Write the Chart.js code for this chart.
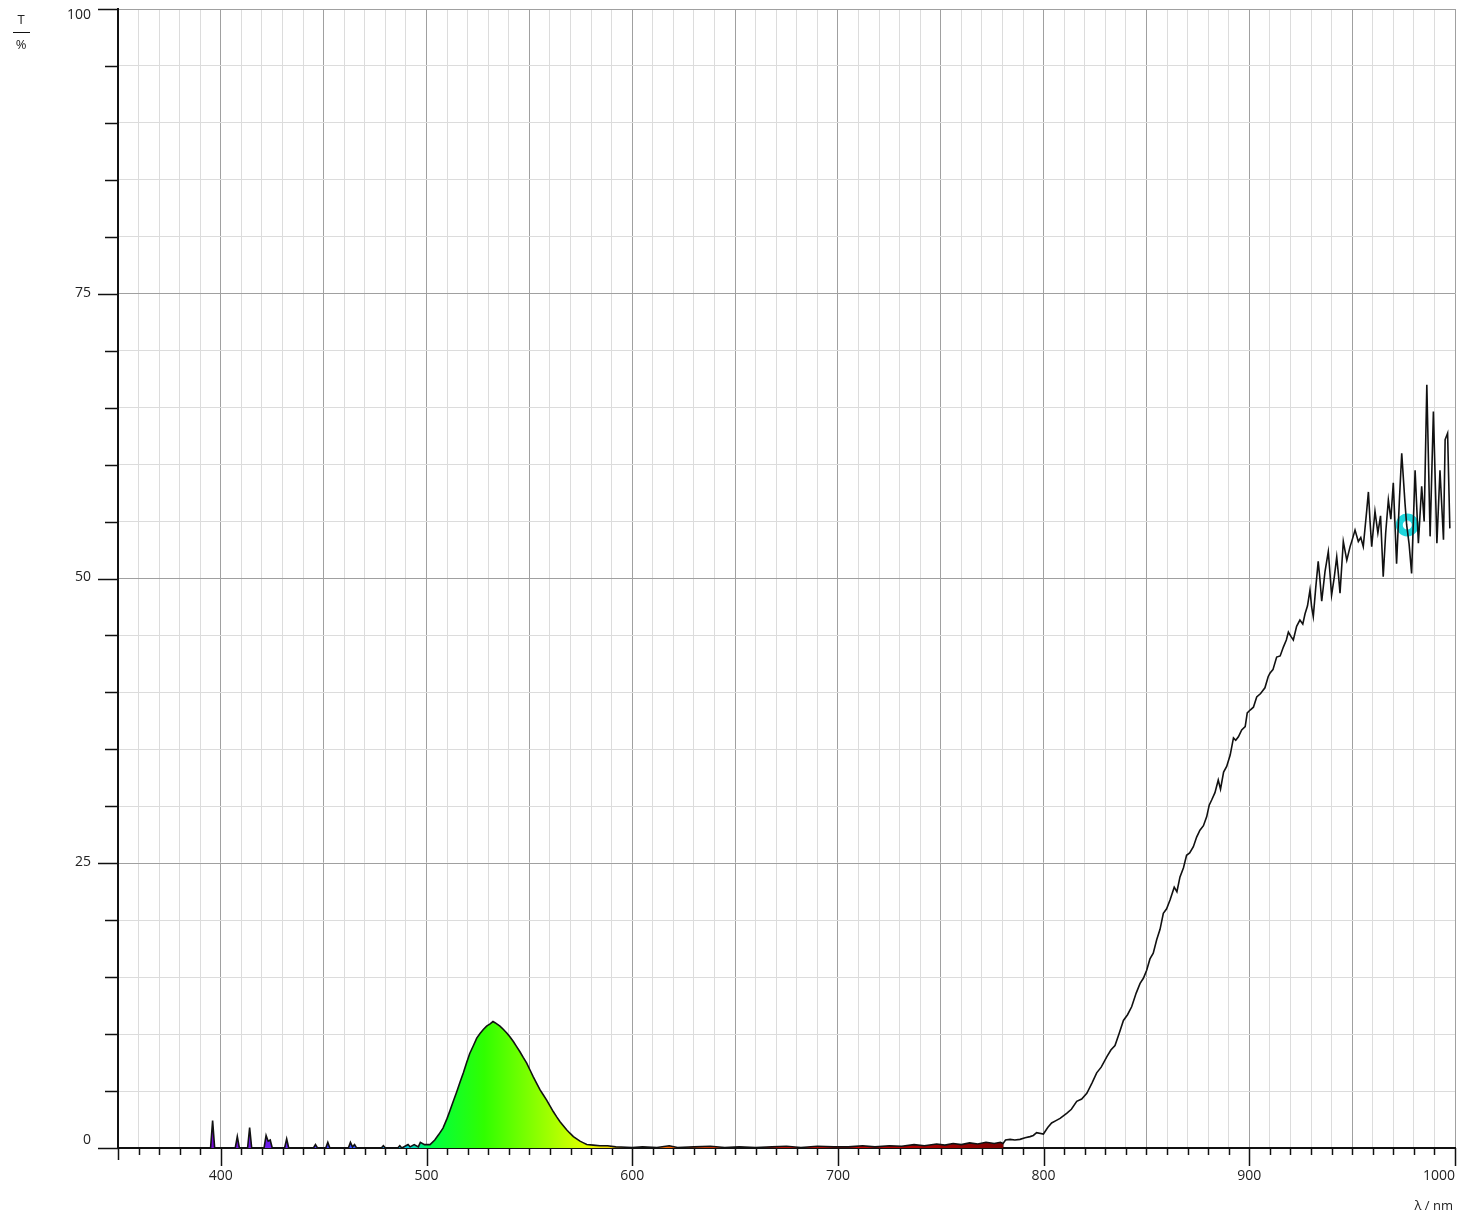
<!DOCTYPE html>
<html>
<head>
<meta charset="utf-8">
<script src="https://cdn.jsdelivr.net/npm/chart.js@4.4.0/dist/chart.umd.min.js"></script>
<style>
  html, body { margin: 0; padding: 0; background: #fff; }
  #wrap { width: 1465px; height: 1217px; position: relative; }
</style>
</head>
<body>
<div id="wrap"><canvas id="specChart"></canvas></div>
<script>
// SPECTRUM DATA
const wavelengths = [
  350, 395, 396, 397, 407, 408, 409, 413, 414, 415, 421, 422, 423, 424, 425, 431, 432, 433,
  445, 446, 447, 451, 452, 453, 462, 463, 464, 465, 466, 478, 479, 480, 486, 487, 488,
  491, 492, 494, 496, 497, 499,
  501.7, 504, 506, 508, 510, 511.4, 513, 514.6, 516.3, 517.9, 519.5, 521, 522.8, 524.4, 526,
  527.6, 529.2, 530.9, 532.3, 533.3, 534.5, 535.7, 537.4, 539, 540.6, 542.2, 543.8, 545.4,
  547, 548.7, 550.3, 551.9, 553.6, 555.2, 556.8, 558.4, 560, 561.6, 563.2, 564.9, 566.5,
  568.1, 569.7, 571.4, 573, 574.6, 576.3, 577.9, 581, 584.3, 588, 592, 600,
  605, 612, 618, 622, 630, 638, 645, 652, 660, 668, 675, 682, 690, 698, 705, 712, 718, 725,
  731, 737, 742, 748, 752, 756, 760, 764, 768, 772, 776, 779, 780.3, 781.5, 783.7, 786,
  788.5, 791, 793.4, 795, 796.6, 799.9, 802, 803.9, 806, 808, 811.2, 813.5, 816.1, 818.5,
  821, 823.5, 825.8, 828, 830.7, 832.7, 834.7, 836.8, 838.8, 840.8, 842.8, 845, 846.9,
  848.5, 850.1, 851.7, 853.3, 855, 856.6, 858.2, 859.8, 861.5, 863.5, 864.8, 866.3, 868,
  869.5, 871, 872.8, 874.4, 876, 877.7, 879.3, 880.5, 881.7, 883.3, 884.9, 886, 887.5, 889,
  890.7, 892.3, 893.4, 894.7, 896.3, 898, 899, 900.4, 902, 903.6, 905.5, 907.6, 909.2,
  910.1, 911.5, 913.3, 915, 916.6, 918, 919, 920.3, 921.4, 923, 924.6, 926, 927.1, 928.3,
  929.5, 930.3, 931.1, 932.3, 933.5, 934.3, 935.2, 936.8, 938.4, 939.2, 940, 941.3, 942.5,
  943.3, 944.1, 945.7, 947.4, 949, 950.2, 951.4, 953, 954.2, 955.4, 957.1, 957.9, 958.7,
  959.5, 961.1, 962.5, 963.8, 965.1, 966.3, 967.6, 968.8, 970, 971.6, 973, 974.1, 975.7,
  976.5, 977.7, 978.9, 980.6, 982.2, 983.8, 985, 986.3, 987.9, 989.5, 991.2, 992.7, 994.4,
  995.2, 996.4, 997.5
];
const transmission = [
  0, 0, 2.4, 0, 0, 1.0, 0, 0, 1.8, 0, 0, 1.1, 0.6, 0.7, 0, 0, 0.8, 0,
  0, 0.3, 0, 0, 0.5, 0, 0, 0.5, 0.1, 0.3, 0, 0, 0.2, 0, 0, 0.2, 0,
  0.3, 0.1, 0.3, 0.1, 0.5, 0.3,
  0.3, 0.7, 1.2, 1.75, 2.6, 3.3, 4.1, 4.9, 5.8, 6.6, 7.5, 8.3, 9.0, 9.65, 10.05,
  10.4, 10.7, 10.9, 11.1, 11.0, 10.85, 10.7, 10.4, 10.1, 9.75, 9.35, 8.9, 8.45,
  7.95, 7.45, 6.85, 6.25, 5.65, 5.1, 4.65, 4.2, 3.7, 3.2, 2.75, 2.3, 1.95,
  1.6, 1.3, 1.0, 0.8, 0.6, 0.45, 0.3, 0.25, 0.2, 0.2, 0.1, 0.05,
  0.1, 0.05, 0.2, 0.05, 0.1, 0.15, 0.05, 0.1, 0.05, 0.1, 0.15, 0.05, 0.15, 0.1, 0.1, 0.2, 0.1, 0.2,
  0.15, 0.3, 0.2, 0.35, 0.25, 0.4, 0.3, 0.45, 0.35, 0.5, 0.4, 0.5, 0.4, 0.7, 0.76, 0.7,
  0.76, 0.9, 1.0, 1.1, 1.35, 1.23, 1.8, 2.2, 2.4, 2.6, 3.05, 3.4, 4.1, 4.3,
  4.8, 5.7, 6.6, 7.1, 8.0, 8.6, 9.0, 10.1, 11.2, 11.7, 12.4, 13.6, 14.45,
  14.9, 15.6, 16.6, 17.1, 18.3, 19.2, 20.6, 21.0, 21.8, 22.9, 22.5, 23.8, 24.6,
  25.7, 25.9, 26.45, 27.3, 27.9, 28.3, 29.1, 30.1, 30.55, 31.2, 32.3, 31.5, 33.0, 33.5,
  34.5, 36.0, 35.8, 36.1, 36.7, 37.0, 38.2, 38.45, 38.7, 39.6, 39.9, 40.4, 41.4,
  41.7, 42.0, 43.1, 43.2, 44.0, 44.6, 45.3, 44.9, 44.6, 45.8, 46.35, 46.0, 46.9, 47.6,
  49.0, 47.5, 46.65, 49.2, 51.5, 50.0, 48.0, 50.6, 52.35, 50.5, 48.55, 50.1, 51.9,
  50.4, 48.7, 53.25, 51.6, 52.8, 53.5, 54.25, 53.25, 53.6, 52.8, 56.0, 57.6, 55.0,
  52.8, 55.9, 54.0, 55.5, 50.15, 54.0, 56.9, 55.2, 58.4, 51.3, 57.0, 61.0, 56.6,
  54.7, 53.0, 50.45, 59.5, 53.1, 58.1, 55.0, 67.0, 53.7, 64.65, 53.1, 59.5, 53.4,
  62.2, 62.75, 54.4
];
const cursorPoint = [{ x: 976.8, y: 54.7 }];

const xTickLabels = [400, 500, 600, 700, 800, 900, 1000];
const yTickLabels = [0, 25, 50, 75, 100];

// colours of the fill under the curve, by wavelength
const fillStops = [
  [380, '#7a00c8'], [430, '#6a20f0'], [465, '#3050ff'], [490, '#00c8e0'], [503, '#00ff40'],
  [528, '#30ff00'], [555, '#90ff00'], [578, '#e4ff00'], [598, '#ffb000'], [620, '#ff6000'],
  [660, '#ff1000'], [720, '#c00000'], [780, '#800000'], [781, 'rgba(0,0,0,0)'], [1000, 'rgba(0,0,0,0)']
];

const MINOR = '#dcdcdc';
const MAJOR = '#a0a0a0';
const TEXT = '#222';
const FONT = '14px "Open Sans", sans-serif';

function spectrumFill(context) {
    const chart = context.chart;
    const { ctx, chartArea, scales } = chart;
    if (!chartArea) return null;
    const x0 = scales.x.getPixelForValue(350);
    const x1 = scales.x.getPixelForValue(1000);
    const g = ctx.createLinearGradient(x0, 0, x1, 0);
    fillStops.forEach(s => {
        g.addColorStop((scales.x.getPixelForValue(s[0]) - x0) / (x1 - x0), s[1]);
    });
    return g;
}

// ticks, tick labels and axis titles
const axisDecor = {
    id: 'axisDecor',
    afterDraw(chart) {
        const { ctx, chartArea, scales } = chart;
        const xs = scales.x, ys = scales.y;
        ctx.save();
        ctx.strokeStyle = '#111';
        ctx.lineWidth = 1.5;
        // x ticks
        for (let v = 350; v <= 1000; v += 10) {
            const px = Math.round(xs.getPixelForValue(v)) + 0.5;
            let len = 7;
            if (v % 100 === 0) len = 18;
            else if (v === 350) len = 12;
            ctx.beginPath();
            ctx.moveTo(px, chartArea.bottom);
            ctx.lineTo(px, chartArea.bottom + len);
            ctx.stroke();
        }
        // y ticks
        for (let v = 0; v <= 100; v += 5) {
            const py = Math.round(ys.getPixelForValue(v)) + 0.5;
            const len = v % 25 === 0 ? 20 : 13;
            ctx.beginPath();
            ctx.moveTo(chartArea.left, py);
            ctx.lineTo(chartArea.left - len, py);
            ctx.stroke();
        }
        ctx.fillStyle = TEXT;
        ctx.font = FONT;
        ctx.textBaseline = 'middle';
        // x labels
        ctx.textAlign = 'center';
        xTickLabels.forEach(v => {
            let px = xs.getPixelForValue(v);
            if (v === 1000) { ctx.textAlign = 'right'; px = chartArea.right; }
            ctx.fillText(String(v), px, chartArea.bottom + 28);
            ctx.textAlign = 'center';
        });
        // y labels
        ctx.textAlign = 'right';
        yTickLabels.forEach(v => {
            let py = ys.getPixelForValue(v) - 1;
            if (v === 100) py += 7;
            if (v === 0) py -= 7;
            ctx.fillText(String(v), chartArea.left - 27, py);
        });
        // axis titles
        ctx.font = '13px "Open Sans", sans-serif';
        ctx.textAlign = 'center';
        ctx.fillText('T', 21, 20);
        ctx.fillText('%', 21, 45);
        ctx.lineWidth = 1;
        ctx.beginPath();
        ctx.moveTo(13, 32.5);
        ctx.lineTo(30, 32.5);
        ctx.stroke();
        ctx.textAlign = 'right';
        ctx.fillText('λ / nm', chartArea.right - 2, chartArea.bottom + 58);
        ctx.restore();
    }
};

const points = wavelengths.map((w, i) => ({ x: w, y: transmission[i] }));

new Chart(document.getElementById('specChart'), {
    type: 'line',
    data: {
        datasets: [{
            data: points,
            borderColor: '#111',
            borderWidth: 1.6,
            backgroundColor: spectrumFill,
            fill: 'origin',
            pointRadius: 0,
            tension: 0
        }, {
            data: cursorPoint,
            showLine: false,
            pointRadius: 8,
            pointBorderWidth: 7,
            pointBorderColor: '#1fd6dc',
            pointBackgroundColor: 'rgba(0,0,0,0)',
            fill: false
        }]
    },
    options: {
        responsive: true,
        maintainAspectRatio: false,
        animation: false,
        layout: { autoPadding: false, padding: { left: 118, top: 9, right: 10, bottom: 69 } },
        plugins: { legend: { display: false }, tooltip: { enabled: false } },
        scales: {
            x: {
                type: 'linear',
                min: 350, max: 1000,
                ticks: { stepSize: 10, display: false },
                grid: {
                    drawTicks: false,
                    color: c => (c.tick && c.tick.value % 50 === 0) ? MAJOR : MINOR,
                    lineWidth: 1
                },
                border: { color: '#111', width: 2 },
                afterFit: s => { s.height = 0; }
            },
            y: {
                min: 0, max: 100,
                ticks: { stepSize: 5, display: false },
                grid: {
                    drawTicks: false,
                    color: c => (c.tick && c.tick.value % 25 === 0) ? MAJOR : MINOR,
                    lineWidth: 1
                },
                border: { color: '#111', width: 2 },
                afterFit: s => { s.width = 0; }
            }
        }
    },
    plugins: [axisDecor]
});
</script>
</body>
</html>
